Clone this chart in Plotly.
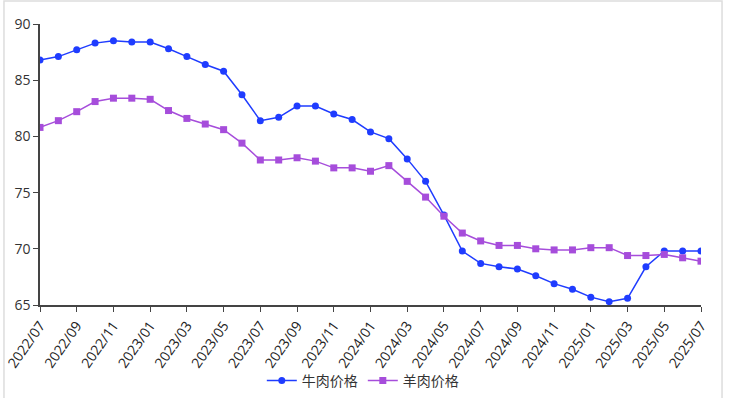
import plotly.graph_objects as go

months = [f"{y}/{m:02d}" for y, m in
          [(2022, m) for m in range(7, 13)] + [(2023, m) for m in range(1, 13)] +
          [(2024, m) for m in range(1, 13)] + [(2025, m) for m in range(1, 8)]]

beef = [86.8, 87.1, 87.7, 88.3, 88.5, 88.4, 88.4, 87.8, 87.1, 86.4, 85.8, 83.7,
        81.4, 81.7, 82.7, 82.7, 82.0, 81.5, 80.4, 79.8, 78.0, 76.0, 73.0, 69.8,
        68.7, 68.4, 68.2, 67.6, 66.9, 66.4, 65.7, 65.3, 65.6, 68.4, 69.8, 69.8, 69.8]
mutton = [80.8, 81.4, 82.2, 83.1, 83.4, 83.4, 83.3, 82.3, 81.6, 81.1, 80.6, 79.4,
          77.9, 77.9, 78.1, 77.8, 77.2, 77.2, 76.9, 77.4, 76.0, 74.6, 72.9, 71.4,
          70.7, 70.3, 70.3, 70.0, 69.9, 69.9, 70.1, 70.1, 69.4, 69.4, 69.5, 69.2, 68.9]

tick_labels = months[::2]
y_ticks = [65, 70, 75, 80, 85, 90]

FONT = "Open Sans, Noto Sans CJK SC, sans-serif"

fig = go.Figure()
fig.add_trace(go.Scatter(x=months, y=beef, name="牛肉价格", mode="lines+markers",
                         line=dict(color="#1f3cff", width=1.5),
                         marker=dict(symbol="circle", size=7, color="#1f3cff")))
fig.add_trace(go.Scatter(x=months, y=mutton, name="羊肉价格", mode="lines+markers",
                         line=dict(color="#a64ddb", width=1.5),
                         marker=dict(symbol="square", size=7, color="#a64ddb")))

fig.update_layout(
    width=730, height=398,
    margin=dict(l=40, r=29, t=24, b=93),
    paper_bgcolor="white", plot_bgcolor="white",
    font=dict(family=FONT, size=13, color="#333333"),
    showlegend=True,
    legend=dict(orientation="h", xref="container", yref="container",
                x=0.497, xanchor="center", y=0.043, yanchor="middle",
                bgcolor="rgba(0,0,0,0)",
                font=dict(size=14, color="#333333"), itemwidth=30),
    xaxis=dict(type="category", range=[0, len(months) - 1], automargin=False,
               tickmode="array", tickvals=tick_labels, ticktext=tick_labels,
               tickangle=-55, showgrid=False, zeroline=False,
               showline=True, linecolor="#444444", linewidth=1.5,
               ticks="outside", ticklen=5, tickcolor="#444444",
               tickfont=dict(size=14, color="#222222")),
    yaxis=dict(range=[65, 90], tickmode="array", tickvals=y_ticks, automargin=False,
               showgrid=False, zeroline=False,
               showline=True, linecolor="#444444", linewidth=1.5,
               ticks="outside", ticklen=5, tickcolor="#444444",
               tickfont=dict(size=14, color="#333333")),
    shapes=[dict(type="rect", xref="paper", yref="paper",
                 x0=-0.0545, x1=1.0318, y0=-0.40, y1=1.082,
                 line=dict(color="#dddddd", width=1.5))],
)

fig.write_html("out.html", config={"displayModeBar": False},
               post_script="document.body.style.margin='0';document.body.style.overflow='hidden';")
